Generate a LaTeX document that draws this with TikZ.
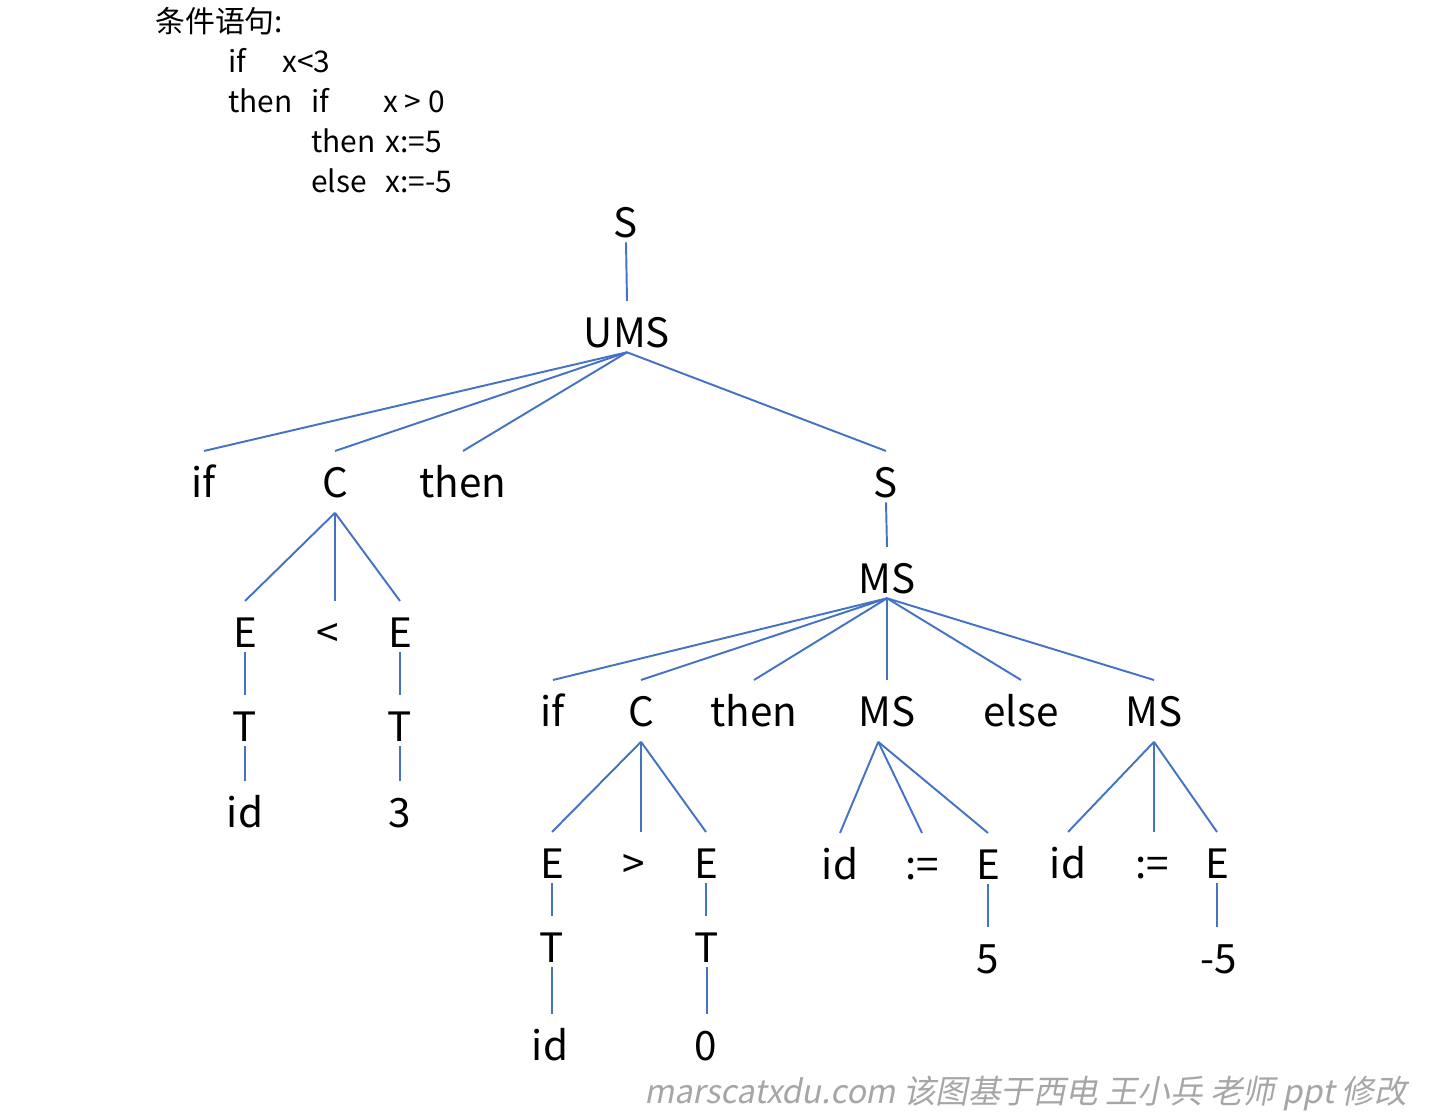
\documentclass[tikz,border=0pt]{standalone}
\usepackage{fontspec}
\setmainfont{Noto Sans CJK SC}
\newfontfamily\wmfont{Noto Sans CJK SC}[FakeSlant=0.2]
\definecolor{treeblue}{RGB}{68,114,196}
\definecolor{wmgray}{RGB}{166,166,166}
\begin{document}
\begin{tikzpicture}[x=0.02cm,y=-0.02cm,
  sym/.style={anchor=base,font=\fontsize{23}{28}\selectfont,text height=23.2pt,text depth=0pt,inner xsep=0pt,inner ysep=2.8pt},
  deep/.style={text depth=6pt},
  code/.style={anchor=base west,font=\fontsize{17}{20}\selectfont,inner sep=0pt},
  edge/.style={treeblue,line width=1.1pt}]
  \useasboundingbox (0,0) rectangle (1432,1117);
  % the source text
  \node[code] (title) at (155,32) {条件语句:};
  \node[code] (kif) at (228,72) {if};
  \node[code] (cond1) at (282,72) {x<3};
  \node[code] (kthen) at (228,112) {then};
  \node[code] (kif2) at (311,112) {if};
  \node[code] (cond2) at (383,112) {x > 0};
  \node[code] (kthen2) at (311,152) {then};
  \node[code] (asg1) at (385,152) {x:=5};
  \node[code] (kelse) at (311,192) {else};
  \node[code] (asg2) at (385,192) {x:=-5};
  % parse tree
  \node[sym] (s0) at (626,237) {S};
  \node[sym] (ums) at (627,347) {UMS};
  \node[sym] (if1) at (204,497) {if};
  \node[sym,deep] (c1) at (335,497) {C};
  \node[sym] (then1) at (463,497) {then};
  \node[sym] (s1) at (886,497) {S};
  \node[sym] (e1) at (245,647) {E};
  \node[sym] (lt) at (328,647) {<};
  \node[sym] (e2) at (400,647) {E};
  \node[sym] (t1) at (245,741) {T};
  \node[sym] (t2) at (400,741) {T};
  \node[sym] (id1) at (245,827) {id};
  \node[sym] (n3) at (400,827) {3};
  \node[sym] (ms1) at (887,593) {MS};
  \node[sym] (if2) at (553,726) {if};
  \node[sym,deep] (c2) at (641,726) {C};
  \node[sym] (then2) at (754,726) {then};
  \node[sym,deep] (ms2) at (887,726) {MS};
  \node[sym] (else1) at (1021,726) {else};
  \node[sym,deep] (ms3) at (1154,726) {MS};
  \node[sym] (e3) at (552,878) {E};
  \node[sym] (gt) at (634,878) {>};
  \node[sym] (e4) at (706,878) {E};
  \node[sym] (t3) at (552,962) {T};
  \node[sym] (t4) at (707,962) {T};
  \node[sym] (id2) at (550,1060) {id};
  \node[sym] (n0) at (706,1060) {0};
  \node[sym] (id3) at (840,879) {id};
  \node[sym] (as1) at (922,879) {:=};
  \node[sym] (e5) at (988,879) {E};
  \node[sym] (n5) at (988,973) {5};
  \node[sym] (id4) at (1068,878) {id};
  \node[sym] (as2) at (1152,878) {:=};
  \node[sym] (e6) at (1217,878) {E};
  \node[sym] (nm5) at (1219,973) {-5};
  % edges
  \draw[edge] (s0.south) -- (ums.north);
  \foreach \n in {if1,c1,then1,s1} \draw[edge] (ums.south) -- (\n.north);
  \draw[edge] (c1.south) -- (e1.north);
  \draw[edge] (c1.south) -- (c1.south |- lt.north);
  \draw[edge] (c1.south) -- (e2.north);
  \draw[edge] (e1) -- (t1) (t1) -- (id1);
  \draw[edge] (e2) -- (t2) (t2) -- (n3);
  \draw[edge] (s1.south) -- (ms1.north);
  \foreach \n in {if2,c2,then2,ms2,else1,ms3} \draw[edge] (ms1.south) -- (\n.north);
  \draw[edge] (c2.south) -- (e3.north);
  \draw[edge] (c2.south) -- (c2.south |- gt.north);
  \draw[edge] (c2.south) -- (e4.north);
  \draw[edge] (e3) -- (t3) (t3) -- (t3 |- id2.north);
  \draw[edge] (e4.south) -- (e4.south |- t4.north) (t4.south) -- (t4.south |- n0.north);
  \foreach \n in {id3,as1,e5} \draw[edge] ([xshift=-5]ms2.south) -- (\n.north);
  \draw[edge] (e5) -- (n5);
  \draw[edge] (ms3.south) -- (id4.north) (ms3.south) -- (ms3.south |- as2.north) (ms3.south) -- (e6.north);
  \draw[edge] (e6) -- (e6 |- nm5.north);
  % note
  \node[anchor=base east,font=\wmfont\fontsize{18.5}{22}\selectfont,text=wmgray,inner sep=0pt] (note) at (1407,1103) {marscatxdu.com 该图基于西电 王小兵 老师 ppt 修改};
\end{tikzpicture}
\end{document}
